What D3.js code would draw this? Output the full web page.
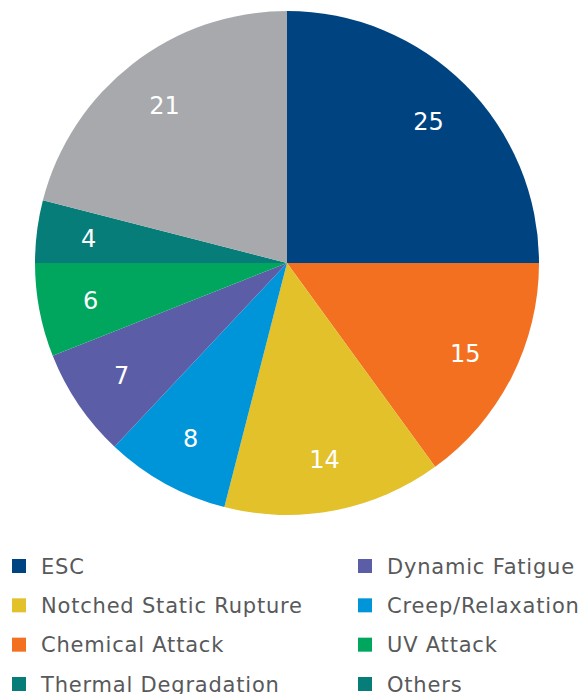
<!DOCTYPE html>
<html><head><meta charset="utf-8">
<script src="https://cdn.jsdelivr.net/npm/d3@7"></script>
<style>body{margin:0;background:#fff}svg{display:block}</style>
</head><body><svg id="c" width="584" height="694"></svg>
<script>
const categories = ["ESC","Chemical Attack","Notched Static Rupture","Creep/Relaxation","Dynamic Fatigue","UV Attack","Thermal Degradation","Others"];
const values = [25,15,14,8,7,6,4,21];
const sliceColors = ["#004381","#f37021","#e2c12b","#0095d9","#5b5ea6","#00a65e","#067d78","#a7a9ac"];
const legendOrder = ["ESC","Notched Static Rupture","Chemical Attack","Thermal Degradation","Dynamic Fatigue","Creep/Relaxation","UV Attack","Others"];
const legendColors = ["#004381","#e2c12b","#f37021","#067d78","#5b5ea6","#0095d9","#00a65e","#067d78"];

const svg = d3.select("#c");
const cx = 287, cy = 263, R = 252;
const data = categories.map((c,i)=>({cat:c,value:values[i],color:sliceColors[i]}));
const pie = d3.pie().value(d=>d.value).sort(null);
const arc = d3.arc().innerRadius(0).outerRadius(R);
const labelArc = d3.arc().innerRadius(200).outerRadius(200);
const g = svg.append("g").attr("transform",`translate(${cx},${cy})`);
const arcs = pie(data);
g.selectAll("path").data(arcs).join("path").attr("d",arc).attr("fill",d=>d.data.color);
g.selectAll("text").data(arcs).join("text")
  .attr("transform",d=>`translate(${labelArc.centroid(d)})`)
  .attr("text-anchor","middle").attr("dy","0.36em")
  .attr("fill","#fff").attr("font-family","'DejaVu Sans', sans-serif")
  .attr("font-size",24)
  .text(d=>d.data.value);

const lg = svg.append("g");
const rowY = d3.scalePoint().domain([0,1,2,3]).range([566,684]);
legendOrder.forEach((name,i)=>{
  const col = Math.floor(i/4), row = i%4;
  const x = col===0 ? 12 : 358;
  const y = rowY(row);
  lg.append("rect").attr("x",x).attr("y",y-7).attr("width",14).attr("height",14).attr("fill",legendColors[i]);
  lg.append("text").attr("x",x+29).attr("y",y).attr("dy","0.36em")
    .attr("font-family","'DejaVu Sans', sans-serif").attr("font-size",21)
    .attr("letter-spacing",0.8).attr("fill","#58595b")
    .text(name);
});
</script></body></html>
